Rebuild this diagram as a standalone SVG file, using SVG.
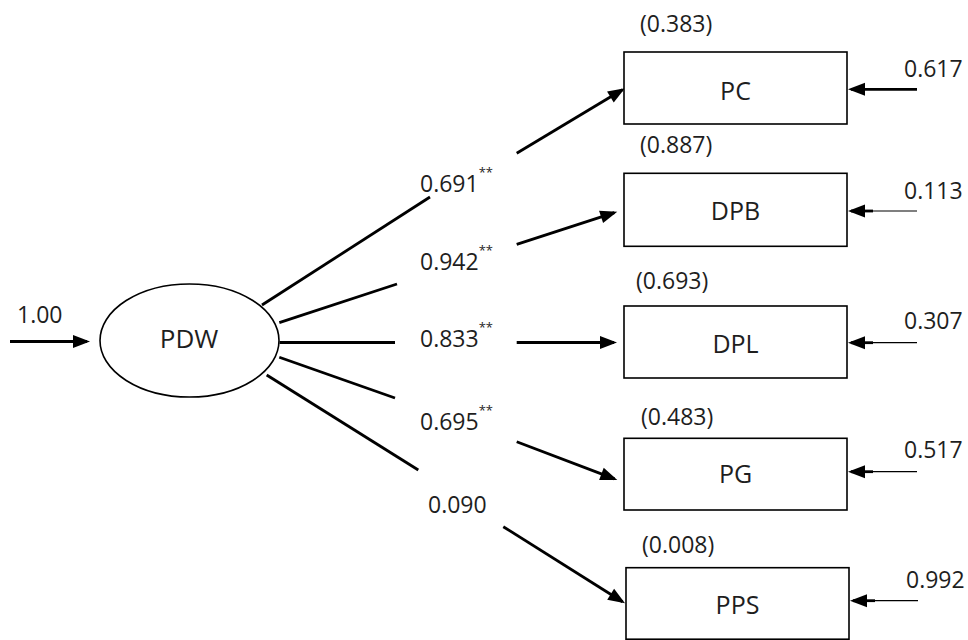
<svg xmlns="http://www.w3.org/2000/svg" width="968" height="640" viewBox="0 0 968 640">
<style>
text{font-family:"Open Sans","Noto Sans","Liberation Sans",sans-serif;fill:#1e1e1e}
.num{font-size:23px}
.lbl{font-size:25px;text-anchor:middle}
.sig{font-size:13px}
.box{fill:#fff;stroke:#000;stroke-width:1.6}
.edge{stroke:#000;stroke-width:2.8;fill:none}
.thin{stroke:#000;stroke-width:1.2;fill:none}
.arr{marker-end:url(#ah)}
</style>
<defs>
<marker id="ah" markerUnits="userSpaceOnUse" markerWidth="17" markerHeight="13" refX="14" refY="6.5" orient="auto" overflow="visible">
<path d="M0,0 L17,6.5 L0,13 Z" fill="#000"/>
</marker>
</defs>
<rect width="968" height="640" fill="#fff"/>

<g id="connectors">
<line class="edge arr" x1="10" y1="341.5" x2="87" y2="341.5"/>
<line class="edge" x1="262" y1="305" x2="430" y2="197"/>
<line class="edge arr" x1="516.7" y1="153.3" x2="622.4" y2="89.8"/>
<line class="edge" x1="279.3" y1="322.7" x2="397" y2="284"/>
<line class="edge arr" x1="516.7" y1="244.3" x2="614.4" y2="212.6"/>
<line class="edge" x1="279.5" y1="342.5" x2="395" y2="342.5"/>
<line class="edge arr" x1="516.7" y1="342.5" x2="614" y2="342.5"/>
<line class="edge" x1="279.3" y1="357.3" x2="395" y2="398"/>
<line class="edge arr" x1="516.7" y1="441.7" x2="614.5" y2="478.9"/>
<line class="edge" x1="266.7" y1="375" x2="418.3" y2="470"/>
<line class="edge arr" x1="503.3" y1="526.7" x2="622.5" y2="601.7"/>

<line class="edge arr" x1="917" y1="89.3" x2="851" y2="89.3"/>
<line class="thin" x1="917" y1="211" x2="873" y2="211"/>
<line class="edge arr" x1="873" y1="211" x2="851" y2="211"/>
<line class="thin" x1="917" y1="342.7" x2="873" y2="342.7"/>
<line class="edge arr" x1="873" y1="342.7" x2="851" y2="342.7"/>
<line class="thin" x1="917" y1="471.7" x2="873" y2="471.7"/>
<line class="edge arr" x1="873" y1="471.7" x2="851" y2="471.7"/>
<line class="thin" x1="918" y1="600.7" x2="875" y2="600.7"/>
<line class="edge arr" x1="875" y1="600.7" x2="853" y2="600.7"/>

<text class="num" x="17" y="323">1.00</text>
<text class="num" x="420" y="192">0.691<tspan class="sig" dy="-15">**</tspan></text>
<text class="num" x="420" y="270">0.942<tspan class="sig" dy="-15">**</tspan></text>
<text class="num" x="420" y="347">0.833<tspan class="sig" dy="-15">**</tspan></text>
<text class="num" x="420" y="430">0.695<tspan class="sig" dy="-15">**</tspan></text>
<text class="num" x="428" y="513">0.090</text>
<text class="num" x="904" y="77">0.617</text>
<text class="num" x="904" y="199">0.113</text>
<text class="num" x="904" y="329">0.307</text>
<text class="num" x="904" y="458">0.517</text>
<text class="num" x="906" y="588">0.992</text>
</g>

<g id="PDW">
<ellipse cx="189.5" cy="340.5" rx="89.5" ry="56.5" fill="#fff" stroke="#000" stroke-width="1.6"/>
<text x="189" y="348" font-size="26" text-anchor="middle">PDW</text>
</g>

<g id="PC">
<rect class="box" x="624" y="52" width="223" height="72"/>
<text class="lbl" x="735.5" y="100">PC</text>
<text class="num" x="640" y="31.5">(0.383)</text>
</g>

<g id="DPB">
<rect class="box" x="624" y="173.3" width="223" height="73"/>
<text class="lbl" x="735.5" y="220">DPB</text>
<text class="num" x="640" y="153">(0.887)</text>
</g>

<g id="DPL">
<rect class="box" x="624" y="306" width="223" height="72"/>
<text class="lbl" x="735.5" y="352.5">DPL</text>
<text class="num" x="636" y="289">(0.693)</text>
</g>

<g id="PG">
<rect class="box" x="624" y="438.3" width="223" height="71.7"/>
<text class="lbl" x="735.5" y="483">PG</text>
<text class="num" x="641" y="425">(0.483)</text>
</g>

<g id="PPS">
<rect class="box" x="626" y="567.7" width="223" height="71.5"/>
<text class="lbl" x="737.5" y="614">PPS</text>
<text class="num" x="642" y="553">(0.008)</text>
</g>
</svg>
